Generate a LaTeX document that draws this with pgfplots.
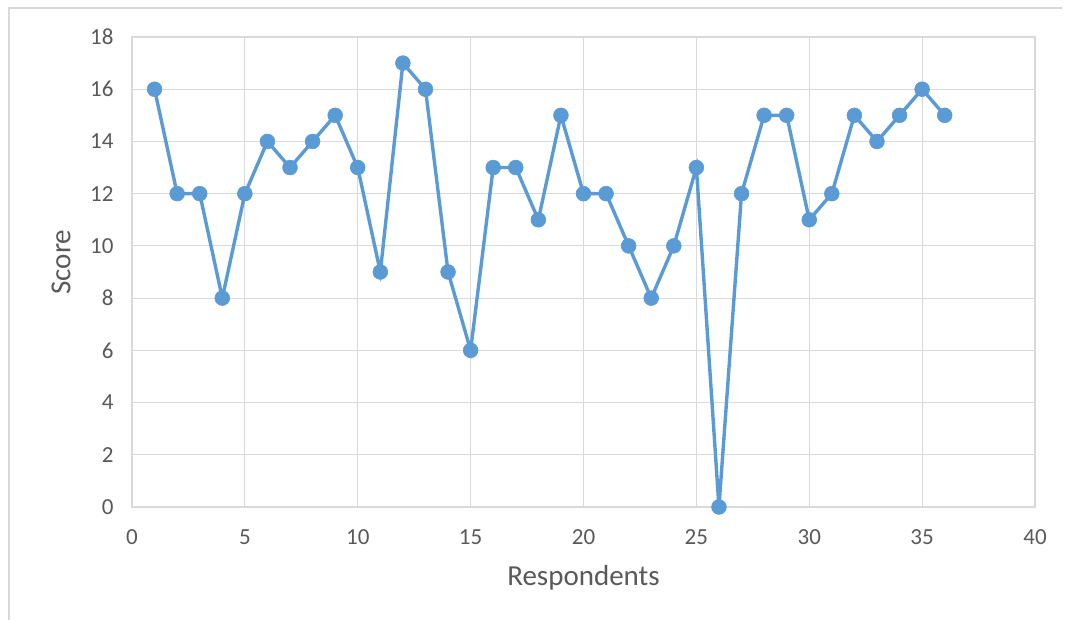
\documentclass[border=0pt]{standalone}
\usepackage{pgfplots}
\pgfplotsset{compat=1.18}
\usepackage{fontspec}
\setmainfont{Carlito}
\definecolor{serie}{HTML}{5B9BD5}
\definecolor{gridc}{HTML}{D9D9D9}
\definecolor{txt}{HTML}{595959}
\begin{document}
\begin{tikzpicture}[x=1pt,y=1pt]
\path[use as bounding box] (0,0) rectangle (1070,620);
\draw[gridc, line width=1.5pt] (9,0) -- (9,612) -- (1062,612);
\begin{axis}[
  at={(132pt,113pt)}, anchor=origin,
  scale only axis, width=903pt, height=470pt,
  xmin=0, xmax=40, ymin=0, ymax=18,
  xtick={0,5,...,40}, ytick={0,2,...,18},
  grid=major,
  major grid style={gridc, line width=1.2pt},
  axis line style={gridc, line width=1.2pt},
  tick style={draw=none},
  ticklabel style={font=\fontsize{23}{27}\selectfont, text=txt},
  /pgf/number format/assume math mode=true,
  yticklabel style={xshift=-15pt},
  xticklabel style={yshift=-19pt},
  xlabel={Respondents}, ylabel={Score},
  label style={font=\fontsize{29}{33}\selectfont, text=txt},
  xlabel style={at={(axis description cs:0.5,0)}, anchor=center, yshift=-71pt},
  ylabel style={at={(axis description cs:0,0.521)}, anchor=center, rotate=0, yshift=71pt},
]
\addplot[serie, line width=3.4pt, mark=*, mark size=7.4pt, mark options={fill=serie, draw=serie, line width=0.6pt}] coordinates {
(1,16)(2,12)(3,12)(4,8)(5,12)(6,14)(7,13)(8,14)(9,15)(10,13)
(11,9)(12,17)(13,16)(14,9)(15,6)(16,13)(17,13)(18,11)(19,15)(20,12)
(21,12)(22,10)(23,8)(24,10)(25,13)(26,0)(27,12)(28,15)(29,15)(30,11)
(31,12)(32,15)(33,14)(34,15)(35,16)(36,15)
};
\end{axis}
\end{tikzpicture}
\end{document}
